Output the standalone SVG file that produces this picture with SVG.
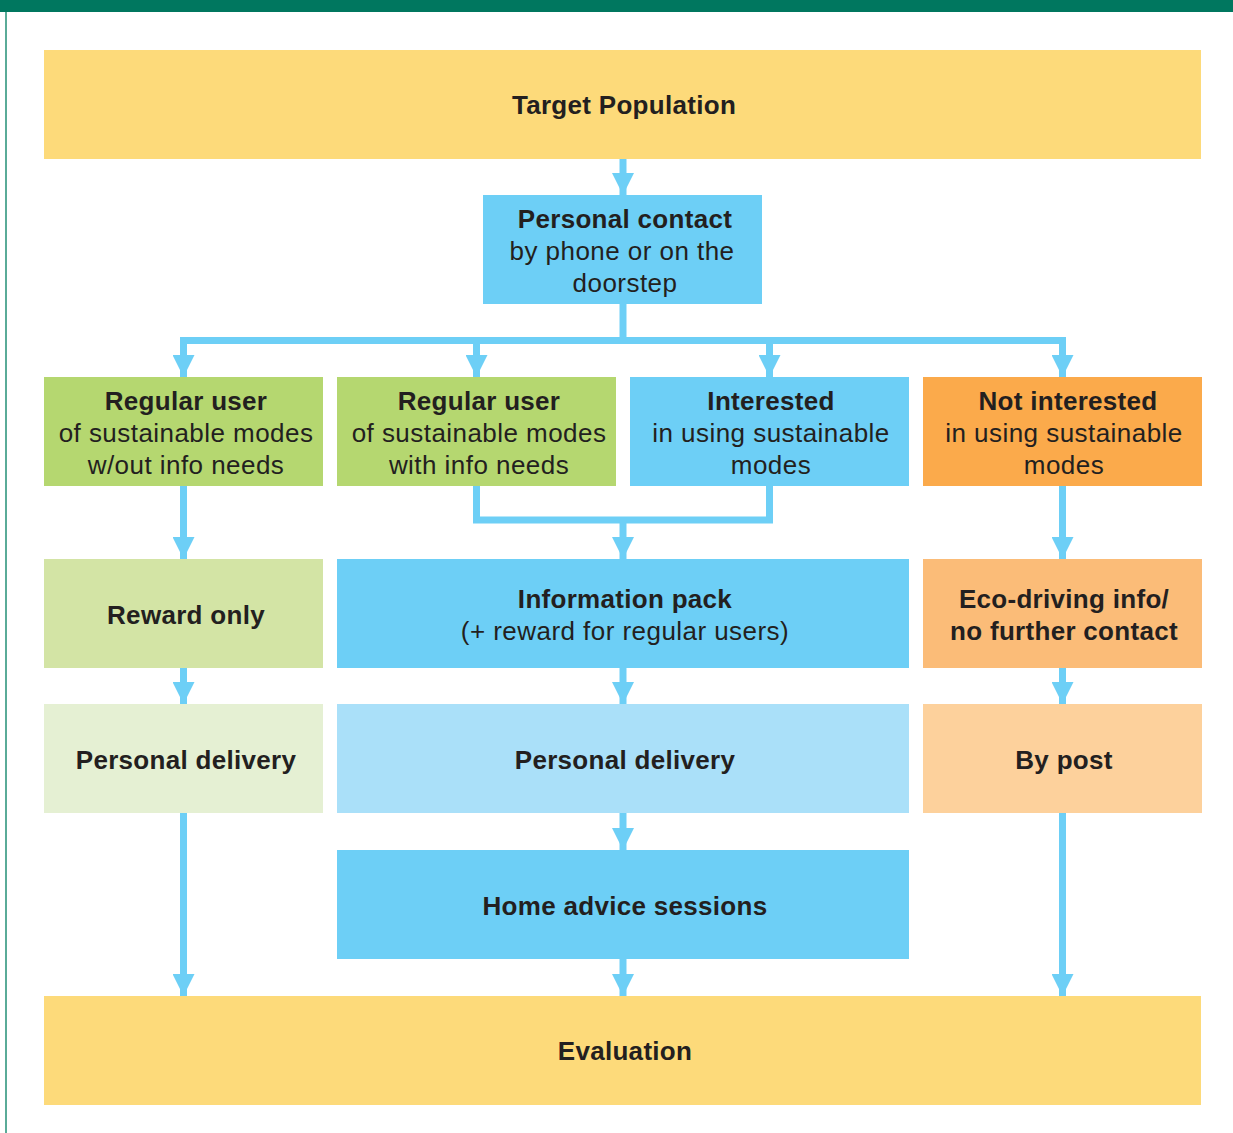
<svg xmlns="http://www.w3.org/2000/svg" width="1233" height="1133" viewBox="0 0 1233 1133">
<defs>
<style>
text{font-family:"Liberation Sans",Arial,sans-serif;font-size:26px;fill:#231f20;text-anchor:middle}
.b{font-weight:bold;letter-spacing:0.3px}
.r{letter-spacing:0.45px}
.c{fill:none;stroke:#6dcff6;stroke-width:7}
.yel{fill:#fdda7a}.blu{fill:#6dcff6}.grn{fill:#b5d770}.org{fill:#fbaa4b}
.lgr{fill:#d3e4a5}.vlg{fill:#e5f0d3}.lbl{fill:#aae0f9}.eco{fill:#fbbc78}.pst{fill:#fdd19c}
</style>
<marker id="ah" markerUnits="userSpaceOnUse" markerWidth="22" markerHeight="22" refX="22" refY="11" orient="auto" viewBox="0 0 22 22">
<path d="M0,0 L22,11 L0,22 z" fill="#6dcff6"/>
</marker>
</defs>
<rect x="0" y="0" width="1233" height="1133" fill="#ffffff"/>
<rect x="0" y="0" width="1233" height="12" fill="#00775f"/>
<rect x="5" y="12" width="2" height="1121" fill="#5aab98"/>

<g id="connectors">
<path class="c" d="M623,159 V195" marker-end="url(#ah)"/>
<path class="c" d="M623,304 V340.5"/>
<path class="c" d="M183.5,360 V340.5 H1062.5 V360" stroke-linejoin="miter"/>
<path class="c" d="M183.5,340 V377" marker-end="url(#ah)"/>
<path class="c" d="M476.5,340 V377" marker-end="url(#ah)"/>
<path class="c" d="M769.5,340 V377" marker-end="url(#ah)"/>
<path class="c" d="M1062.5,340 V377" marker-end="url(#ah)"/>
<path class="c" d="M183.5,486 V559" marker-end="url(#ah)"/>
<path class="c" d="M476.5,486 V520 H769.5 V486" stroke-linejoin="miter"/>
<path class="c" d="M623,520 V559" marker-end="url(#ah)"/>
<path class="c" d="M1062.5,486 V559" marker-end="url(#ah)"/>
<path class="c" d="M183.5,668 V704" marker-end="url(#ah)"/>
<path class="c" d="M623,668 V704" marker-end="url(#ah)"/>
<path class="c" d="M1062.5,668 V704" marker-end="url(#ah)"/>
<path class="c" d="M183.5,813 V996" marker-end="url(#ah)"/>
<path class="c" d="M623,813 V850" marker-end="url(#ah)"/>
<path class="c" d="M623,959 V996" marker-end="url(#ah)"/>
<path class="c" d="M1062.5,813 V996" marker-end="url(#ah)"/>
</g>

<g id="target">
<rect class="yel" x="44" y="50" width="1157" height="109"/>
<text class="b" x="624" y="114">Target Population</text>
</g>
<g id="contact">
<rect class="blu" x="483" y="195" width="279" height="109"/>
<text class="b" x="625" y="228">Personal contact</text>
<text class="r" x="622" y="260">by phone or on the</text>
<text class="r" x="625" y="292">doorstep</text>
</g>
<g id="regular-no-info">
<rect class="grn" x="44" y="377" width="279" height="109"/>
<text class="b" x="186" y="410">Regular user</text>
<text class="r" x="186" y="442">of sustainable modes</text>
<text class="r" x="186" y="474">w/out info needs</text>
</g>
<g id="regular-info">
<rect class="grn" x="337" y="377" width="279" height="109"/>
<text class="b" x="479" y="410">Regular user</text>
<text class="r" x="479" y="442">of sustainable modes</text>
<text class="r" x="479" y="474">with info needs</text>
</g>
<g id="interested">
<rect class="blu" x="630" y="377" width="279" height="109"/>
<text class="b" x="771" y="410">Interested</text>
<text class="r" x="771" y="442">in using sustainable</text>
<text class="r" x="771" y="474">modes</text>
</g>
<g id="not-interested">
<rect class="org" x="923" y="377" width="279" height="109"/>
<text class="b" x="1068" y="410">Not interested</text>
<text class="r" x="1064" y="442">in using sustainable</text>
<text class="r" x="1064" y="474">modes</text>
</g>
<g id="reward">
<rect class="lgr" x="44" y="559" width="279" height="109"/>
<text class="b" x="186" y="624">Reward only</text>
</g>
<g id="info-pack">
<rect class="blu" x="337" y="559" width="572" height="109"/>
<text class="b" x="625" y="608">Information pack</text>
<text class="r" x="625" y="640">(+ reward for regular users)</text>
</g>
<g id="eco">
<rect class="eco" x="923" y="559" width="279" height="109"/>
<text class="b" x="1064" y="608">Eco-driving info/</text>
<text class="b" x="1064" y="640">no further contact</text>
</g>
<g id="delivery-left">
<rect class="vlg" x="44" y="704" width="279" height="109"/>
<text class="b" x="186" y="769">Personal delivery</text>
</g>
<g id="delivery-center">
<rect class="lbl" x="337" y="704" width="572" height="109"/>
<text class="b" x="625" y="769">Personal delivery</text>
</g>
<g id="post">
<rect class="pst" x="923" y="704" width="279" height="109"/>
<text class="b" x="1064" y="769">By post</text>
</g>
<g id="home-advice">
<rect class="blu" x="337" y="850" width="572" height="109"/>
<text class="b" x="625" y="915">Home advice sessions</text>
</g>
<g id="evaluation">
<rect class="yel" x="44" y="996" width="1157" height="109"/>
<text class="b" x="625" y="1060">Evaluation</text>
</g>
</svg>
